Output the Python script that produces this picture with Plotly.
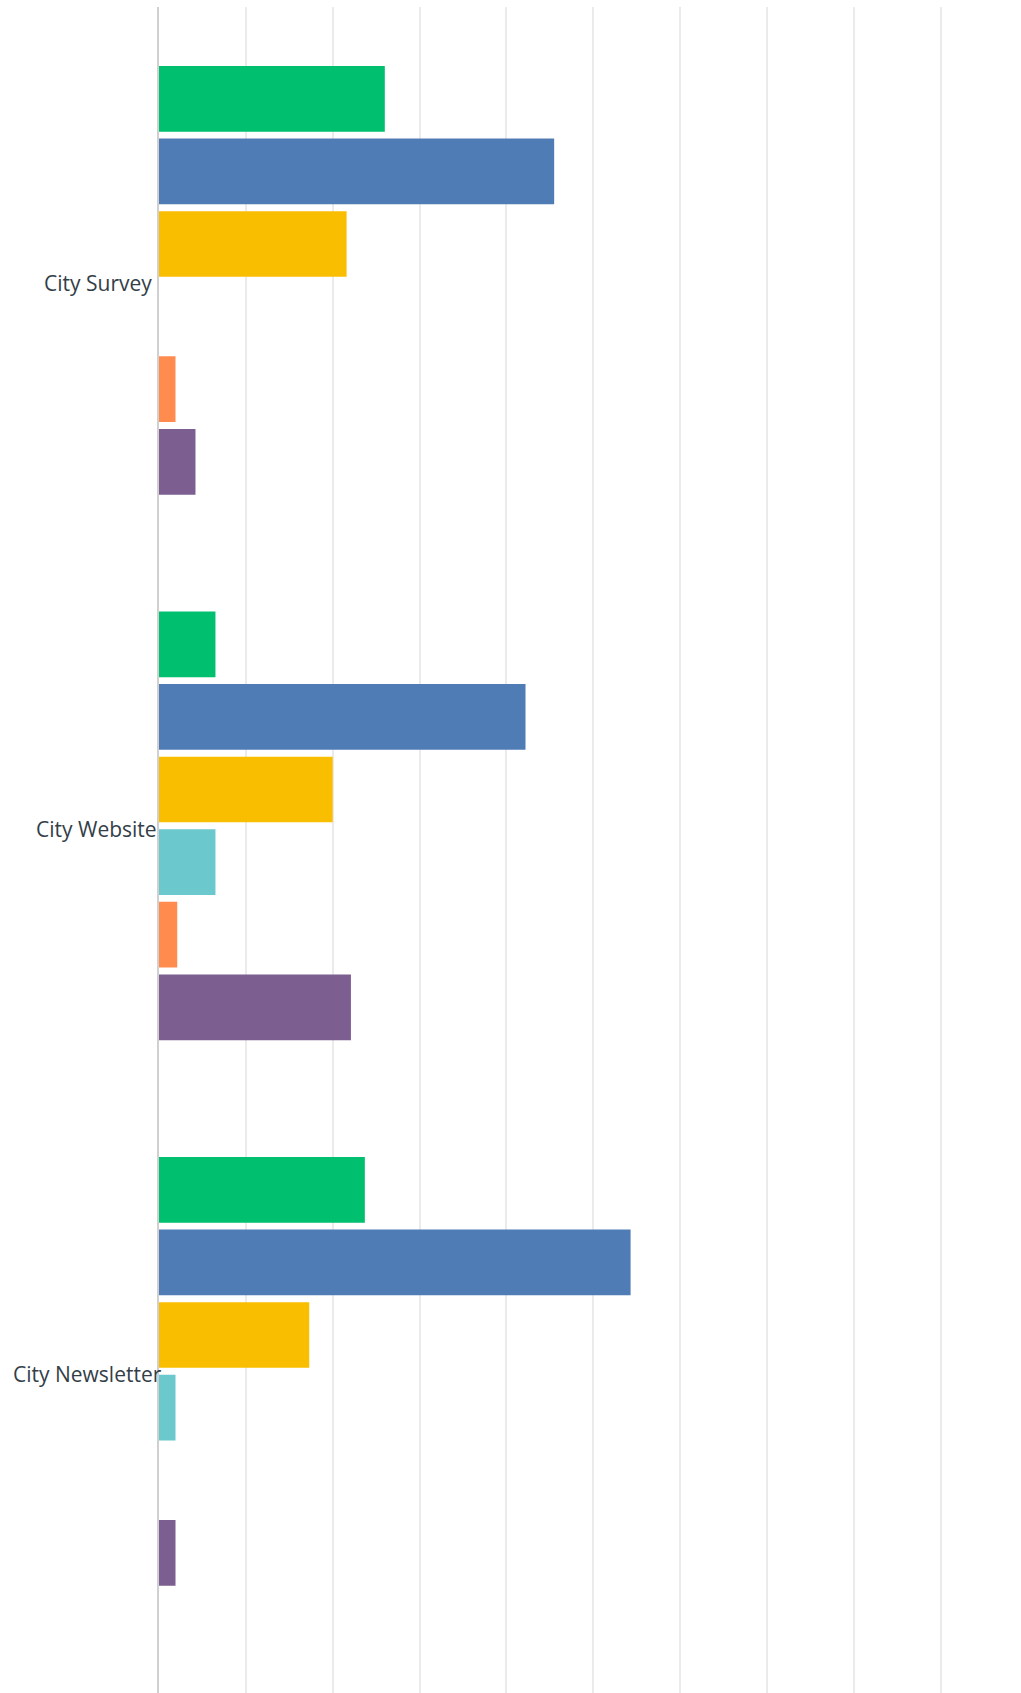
import plotly.graph_objects as go

# ---- data ----
categories = ["City Survey", "City Website", "City Newsletter"]
series_names = ["Series 1", "Series 2", "Series 3", "Series 4", "Series 5", "Series 6"]
s1_values = [26.0, 6.5, 23.7]   # green
s2_values = [45.5, 42.2, 54.3]  # blue
s3_values = [21.6, 20.0, 17.3]  # yellow
s4_values = [0.0, 6.5, 1.9]     # teal
s5_values = [1.9, 2.1, 0.0]     # orange
s6_values = [4.2, 22.1, 1.9]    # purple

# ---- styles ----
colors = ["#00BF6F", "#507CB6", "#F9BE00", "#6BC8CD", "#FF8B4F", "#7D5E90"]
label_shift = [-5, 0, 5]

all_values = [s1_values, s2_values, s3_values, s4_values, s5_values, s6_values]
ypos = list(range(len(categories)))

fig = go.Figure()
for name, vals, col in zip(series_names, all_values, colors):
    fig.add_trace(go.Bar(
        x=vals, y=ypos, orientation="h", name=name,
        marker=dict(color=col, line=dict(width=0)),
        hoverinfo="x+name",
    ))

for i, cat in enumerate(categories):
    fig.add_annotation(
        text=cat, x=0, xref="paper", y=ypos[i], yref="y",
        xanchor="right", yanchor="middle", showarrow=False,
        xshift=label_shift[i], yshift=-3,
        font=dict(family="Open Sans", size=21, color="#333E48"),
    )

W, H = 1021, 1693
L, T = 159, 7
plot_w = W - L
plot_h = H - T
px_per_pct = 8.685
px_per_cat = 545.5
top_val = -0.501

fig.update_layout(
    width=W, height=H,
    margin=dict(l=L, r=0, t=T, b=0, pad=0),
    paper_bgcolor="white", plot_bgcolor="white",
    barmode="group", bargap=0.2015, bargroupgap=0.095,
    showlegend=False,
    xaxis=dict(range=[0, plot_w / px_per_pct], dtick=10, tick0=0,
               showgrid=True, gridcolor="#EBEBEB", gridwidth=1.5,
               showticklabels=False, zeroline=False, ticks="", fixedrange=True),
    yaxis=dict(range=[top_val + plot_h / px_per_cat, top_val],
               showgrid=False, zeroline=False, showticklabels=False,
               showline=True, linecolor="#D0D0D0", linewidth=2, ticks="",
               fixedrange=True),
)

fig.write_html("out.html", config={"displayModeBar": False},
               post_script="document.body.style.margin='0';document.body.style.overflow='hidden';")
